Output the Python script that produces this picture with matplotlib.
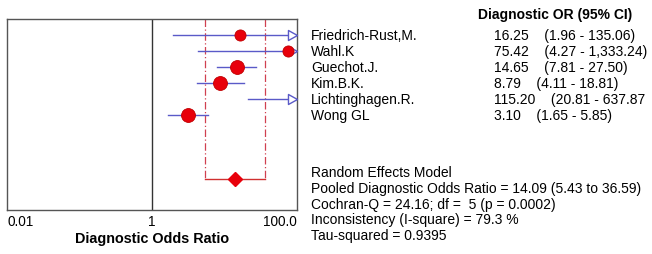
import matplotlib
matplotlib.use("Agg")
import matplotlib.pyplot as plt
from matplotlib.path import Path
import numpy as np

plt.rcParams['font.family'] = ['Liberation Sans', 'DejaVu Sans']

studies = ["Friedrich-Rust,M.", "Wahl.K", "Guechot.J.", "Kim.B.K.", "Lichtinghagen.R.", "Wong GL"]
dor = [16.25, 75.42, 14.65, 8.79, 115.20, 3.10]
lo = [1.96, 4.27, 7.81, 4.11, 20.81, 1.65]
hi = [135.06, 1333.24, 27.50, 18.81, 637.87, 5.85]
ci_text = ["16.25    (1.96 - 135.06)", "75.42    (4.27 - 1,333.24)", "14.65    (7.81 - 27.50)",
           "8.79    (4.11 - 18.81)", "115.20    (20.81 - 637.87", "3.10    (1.65 - 5.85)"]
marker_size = [8, 8, 10, 10, 10, 10]
pooled = 14.09
pooled_lo = 5.43
pooled_hi = 36.59
summary_lines = ["Random Effects Model",
                 "Pooled Diagnostic Odds Ratio = 14.09 (5.43 to 36.59)",
                 "Cochran-Q = 24.16; df =  5 (p = 0.0002)",
                 "Inconsistency (I-square) = 79.3 %",
                 "Tau-squared = 0.9395"]
xticks = [0.01, 1, 100]
xticklabels = ["0.01", "1", "100.0"]

fig = plt.figure(figsize=(6.52, 2.55), dpi=100)
ax = fig.add_axes([7/652, 1 - 211/255, 290/652, 191/255])
xmin, xmax = 0.01, 100
ax.set_xscale('log')
ax.set_xlim(xmin, xmax)
ax.set_ylim(11.94, 0)

arrow = Path([(-1.8, -1), (0, 0), (-1.8, 1), (-1.8, -1)],
             [Path.MOVETO, Path.LINETO, Path.LINETO, Path.CLOSEPOLY])

ci_col = '#5a5ac8'
for i in range(len(studies)):
    y = i + 1
    l = max(lo[i], xmin)
    h = min(hi[i], xmax)
    ax.plot([l, h], [y, y], color=ci_col, lw=1.0, zorder=2)
    if hi[i] > xmax:
        ax.plot([xmax], [y], marker=arrow, ms=13, mfc='white', mec=ci_col, mew=1.0,
                clip_on=False, zorder=4)
    if dor[i] <= xmax:
        ax.plot([dor[i]], [y], 'o', ms=marker_size[i], mfc='#e8000b', mec='#c00000', mew=0.6,
                zorder=5, clip_on=False)

# pooled
red = '#d04050'
ax.plot([pooled_lo, pooled_lo], [0, 10], color=red, lw=0.9, ls=(0, (6, 2, 1, 2)), zorder=1)
ax.plot([pooled_hi, pooled_hi], [0, 10], color=red, lw=0.9, ls=(0, (6, 2, 1, 2)), zorder=1)
ax.plot([pooled_lo, pooled_hi], [10, 10], color='#d03030', lw=1.0, zorder=2)
ax.plot([pooled], [10], 'D', ms=7, mfc='#e8000b', mec='#e8000b', zorder=3)

ax.axvline(1, color='#333333', lw=1.0, zorder=1)
for s in ax.spines.values():
    s.set_color('#555555')
    s.set_linewidth(1.0)

ax.set_yticks([])
ax.set_xticks(xticks)
ax.set_xticklabels(xticklabels, fontsize=9.8)
ax.minorticks_off()
ax.tick_params(axis='x', length=0, pad=3)
labs = ax.get_xticklabels()
labs[0].set_ha('left')
labs[-1].set_ha('right')
ax.set_xlabel("Diagnostic Odds Ratio", fontsize=10.4, fontweight='bold', labelpad=2)

fs = 10
fig.text(478/652, 1 - 15/255, "Diagnostic OR (95% CI)", fontsize=fs, fontweight='bold', va='center', ha='left')
for i, (s, t) in enumerate(zip(studies, ci_text)):
    ypix = 36 + 16 * i
    fig.text(311/652, 1 - ypix/255, s, fontsize=fs, va='center', ha='left')
    fig.text(494/652, 1 - ypix/255, t, fontsize=fs, va='center', ha='left')
for j, s in enumerate(summary_lines):
    ypix = 173 + 15.8 * j
    fig.text(311/652, 1 - ypix/255, s, fontsize=fs, va='center', ha='left')

fig.savefig("out.png", dpi=100)
